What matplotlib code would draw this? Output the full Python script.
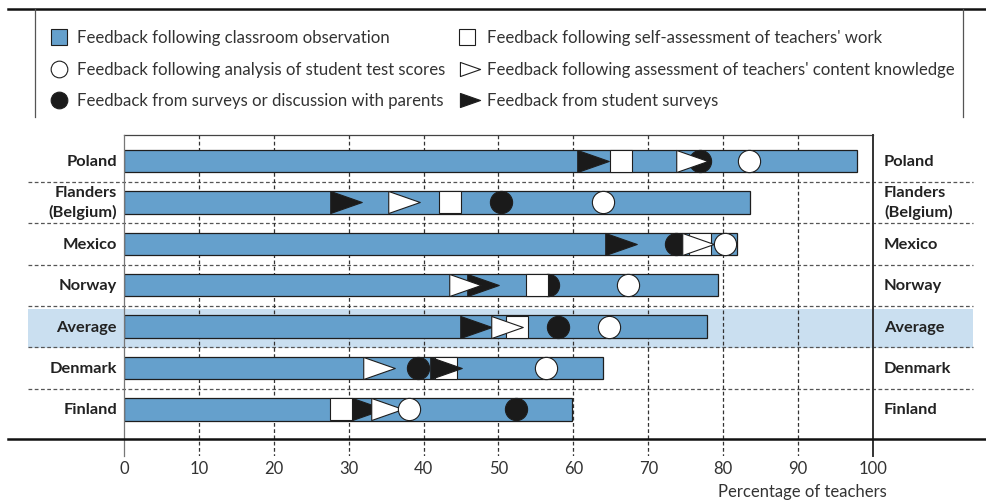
import numpy as np
import matplotlib.pyplot as plt
from matplotlib.path import Path

plt.rcParams['font.family'] = ['Lato', 'DejaVu Sans']

# Data (percentage of teachers)
countries = ["Poland", "Flanders\n(Belgium)", "Mexico", "Norway", "Average", "Denmark", "Finland"]
classroom_obs = [97.9, 83.6, 81.8, 79.3, 77.8, 63.9, 59.8]
self_assess = [66.3, 43.5, 76.9, 55.1, 52.5, 43.0, 29.0]
test_scores = [83.5, 64.0, 80.2, 67.3, 64.8, 56.4, 38.1]
content_knowledge = [75.8, 37.4, 76.6, 45.5, 51.1, 34.1, 35.1]
parents = [76.9, 50.3, 73.7, 56.6, 57.9, 39.3, 52.4]
student_surveys = [62.6, 29.6, 66.4, 47.9, 47.0, 43.0, 32.6]

legend_labels = [
    "Feedback following classroom observation",
    "Feedback following analysis of student test scores",
    "Feedback from surveys or discussion with parents",
    "Feedback following self-assessment of teachers' work",
    "Feedback following assessment of teachers' content knowledge",
    "Feedback from student surveys",
]

bar_color = "#65a0cc"
edge = "#1e1e1e"
highlight = "#cadff0"

tri = Path([(-1, -0.7), (1, 0), (-1, 0.7), (-1, -0.7)],
           [Path.MOVETO, Path.LINETO, Path.LINETO, Path.CLOSEPOLY])

W, H = 987, 502
fig = plt.figure(figsize=(W / 100, H / 100), dpi=100)

# main axes: x 0..100 spans px 124..873, y rows with centres 162 + 41.4*i
row_px = 41.4
top_px, bot_px = 136, 457
ax = fig.add_axes([124 / W, 1 - bot_px / H, 749 / W, (bot_px - top_px) / H])
ax.set_xlim(0, 100)
y_top = -(162 - top_px) / row_px
y_bot = (bot_px - 162) / row_px
ax.set_ylim(y_bot, y_top)
y = np.arange(len(countries))

def px_to_x(px):
    return (px - 124) / 7.49

def px_to_y(py):
    return (py - 162) / row_px

# average row highlight
ax.fill_between([px_to_x(28), px_to_x(973)], px_to_y(310), px_to_y(349),
                color=highlight, lw=0, zorder=0, clip_on=False)

# row dividers
for i in range(len(countries) - 1):
    ax.plot([px_to_x(28), px_to_x(973)], [i + 0.5, i + 0.5], ls=(0, (3, 2)),
            color="#555555", lw=0.9, zorder=1, clip_on=False)

# vertical grid
for v in range(10, 100, 10):
    ax.plot([v, v], [y_top, y_bot], ls=(0, (3, 2)), color="#333333", lw=0.9, zorder=1)

ax.barh(y, classroom_obs, height=0.54, color=bar_color, edgecolor=edge, lw=0.9, zorder=2)

mk = dict(ls="none", markeredgecolor=edge, markeredgewidth=0.8)
ax.plot(parents, y, marker="o", ms=16, markerfacecolor="#1a1a1a", zorder=3, **mk)
ax.plot(self_assess, y, marker="s", ms=16, markerfacecolor="white", zorder=4, **mk)
ax.plot(student_surveys, y, marker=tri, ms=22.7, markerfacecolor="#1a1a1a", zorder=5, **mk)
ax.plot(content_knowledge, y, marker=tri, ms=22.7, markerfacecolor="white", zorder=6, **mk)
ax.plot(test_scores, y, marker="o", ms=16, markerfacecolor="white", zorder=7, **mk)

# frame
for s in ["left", "right", "top", "bottom"]:
    ax.spines[s].set_visible(False)
ax.plot([0, 100], [y_top, y_top], color="#444444", lw=0.9, clip_on=False, zorder=8)
ax.plot([0, 0], [y_top, y_bot], color="#777777", lw=0.9, clip_on=False, zorder=8)
ax.plot([100, 100], [y_top, y_bot], color="#333333", lw=1.4, clip_on=False, zorder=8)
ax.plot([px_to_x(8), px_to_x(987)], [px_to_y(440), px_to_y(440)], color="#111111",
        lw=1.8, clip_on=False, zorder=8)

ax.set_xticks(range(0, 101, 10))
ax.tick_params(axis="x", length=0, pad=3, labelsize=12, labelcolor="#333333")
ax.set_yticks([])

for i, c in enumerate(countries):
    ax.text(px_to_x(117), i, c, ha="right", va="center", ma="right",
            fontsize=11.8, fontweight="bold", color="#222222", linespacing=1.4)
    ax.text(px_to_x(884), i, c, ha="left", va="center", ma="left",
            fontsize=11.8, fontweight="bold", color="#222222", linespacing=1.4)

# legend area in pixel coordinates
lax = fig.add_axes([0, 0, 1, 1], facecolor="none")
lax.set_xlim(0, W)
lax.set_ylim(H, 0)
lax.axis("off")
lax.plot([8, 987], [10, 10], color="#111111", lw=1.8)
lax.plot([35, 35], [10, 118], color="#555555", lw=0.9)
lax.plot([963, 963], [10, 118], color="#555555", lw=0.9)

lax.text(887, 492, "Percentage of teachers", ha="right", va="center",
         fontsize=12, color="#333333")

rows_y = [38, 70, 101]
lm = dict(ls="none", markeredgecolor=edge, markeredgewidth=0.8)
lax.plot(59, rows_y[0], marker="s", ms=11, markerfacecolor=bar_color, **lm)
lax.plot(59, rows_y[1], marker="o", ms=12, markerfacecolor="white", **lm)
lax.plot(59, rows_y[2], marker="o", ms=12, markerfacecolor="#1a1a1a", **lm)
lax.plot(467, rows_y[0], marker="s", ms=11, markerfacecolor="white", **lm)
lax.plot(470, rows_y[1], marker=tri, ms=14.5, markerfacecolor="white", **lm)
lax.plot(470, rows_y[2], marker=tri, ms=14.5, markerfacecolor="#1a1a1a", **lm)

for k, lab in enumerate(legend_labels):
    x0 = 77 if k < 3 else 487
    lax.text(x0, rows_y[k % 3], lab, ha="left", va="center", fontsize=12.1, color="#333333")

fig.savefig("out.png", dpi=100)
